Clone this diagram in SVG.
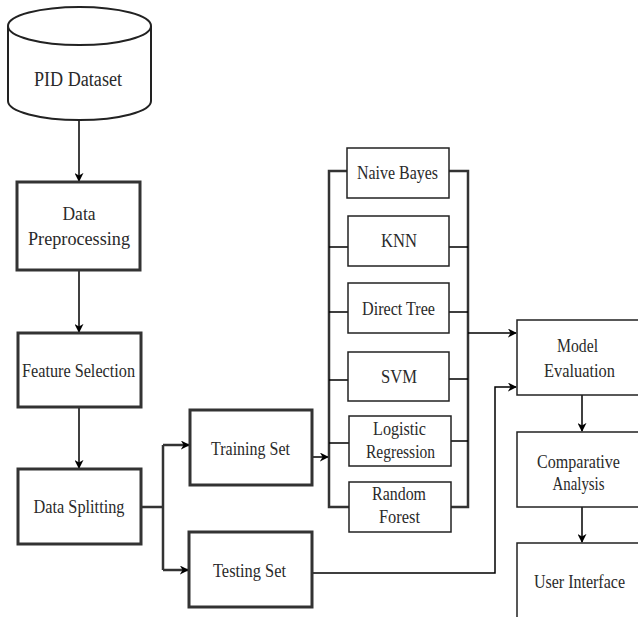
<svg xmlns="http://www.w3.org/2000/svg" width="638" height="617" viewBox="0 0 638 617" font-family="'Liberation Serif', 'Times New Roman', serif">
<defs>
<marker id="ah" viewBox="0 0 10 10" refX="9" refY="5" markerWidth="9" markerHeight="9" markerUnits="userSpaceOnUse" orient="auto">
<path d="M0,0 L10,5 L0,10 L3,5 z" fill="#000"/>
</marker>
<style>
.thick{fill:#fff;stroke:#333;stroke-width:3}
.thin{fill:#fff;stroke:#222;stroke-width:1.5}
.cyl{fill:#fff;stroke:#222;stroke-width:2}
.t{font-family:'Liberation Serif','Times New Roman',serif;font-size:19px;fill:#2a2a2a;text-anchor:middle}
.s{font-size:18px}
.c{fill:none;stroke:#000;stroke-width:1.5}
.a{marker-end:url(#ah)}
.bus{fill:none;stroke:#333;stroke-width:2.5}
</style>
</defs>
<rect width="638" height="617" fill="#fff"/>
<g id="connectors">
<path class="c a" d="M79,120 V181"/>
<path class="c a" d="M79,270 V332"/>
<path class="c a" d="M79,407 V468"/>
<path class="bus" d="M141,507 H163 M163,445 V570"/>
<path class="bus a" d="M163,445 H189"/>
<path class="bus a" d="M163,570 H188"/>
<path class="c a" d="M312,457 H328"/>
<path class="bus" d="M347,171 H329 V507 H349"/>
<path class="bus" d="M449,171 H468 V507 H451"/>
<path class="c" d="M329,247 H348 M329,312 H348 M329,380 H348 M329,443 H349 M449,247 H468 M449,312 H468 M449,379 H468 M451,441 H468"/>
<path class="c a" d="M468,333 H516"/>
<path class="c a" d="M312,573 H495 V387 H516"/>
<path class="c a" d="M582,395 V431"/>
<path class="c a" d="M582,507 V542"/>
</g>
<g id="pid-dataset">
<path class="cyl" d="M8,26 V101 A71.5,19 0 0 0 151,101 V26"/>
<ellipse class="cyl" cx="79.5" cy="26" rx="71.5" ry="19"/>
<text class="t" x="78" y="86" style="font-size:20px" textLength="88" lengthAdjust="spacingAndGlyphs">PID Dataset</text>
</g>
<g id="data-preprocessing">
<rect class="thick" x="17" y="182" width="123" height="88"/>
<text class="t" x="79" y="220" textLength="33" lengthAdjust="spacingAndGlyphs">Data</text>
<text class="t" x="79" y="245" textLength="102" lengthAdjust="spacingAndGlyphs">Preprocessing</text>
</g>
<g id="feature-selection">
<rect class="thick" x="18" y="333" width="123" height="74"/>
<text class="t" x="78.5" y="377" textLength="113" lengthAdjust="spacingAndGlyphs">Feature Selection</text>
</g>
<g id="data-splitting">
<rect class="thick" x="18" y="469" width="123" height="75"/>
<text class="t" x="79" y="513" textLength="91" lengthAdjust="spacingAndGlyphs">Data Splitting</text>
</g>
<g id="training-set">
<rect class="thick" x="190" y="410" width="122" height="75"/>
<text class="t" x="250.5" y="455" textLength="79" lengthAdjust="spacingAndGlyphs">Training Set</text>
</g>
<g id="testing-set">
<rect class="thick" x="189" y="532" width="123" height="75"/>
<text class="t" x="249.5" y="577" textLength="73" lengthAdjust="spacingAndGlyphs">Testing Set</text>
</g>
<g id="naive-bayes">
<rect class="thin" x="347" y="148" width="102" height="50"/>
<text class="t s" x="397.5" y="179" textLength="81" lengthAdjust="spacingAndGlyphs">Naive Bayes</text>
</g>
<g id="knn">
<rect class="thin" x="348" y="216" width="101" height="50"/>
<text class="t s" x="399" y="247" textLength="36" lengthAdjust="spacingAndGlyphs">KNN</text>
</g>
<g id="direct-tree">
<rect class="thin" x="348" y="283" width="101" height="50"/>
<text class="t s" x="398.5" y="315" textLength="73" lengthAdjust="spacingAndGlyphs">Direct Tree</text>
</g>
<g id="svm">
<rect class="thin" x="348" y="352" width="101" height="49"/>
<text class="t s" x="399" y="383" textLength="36" lengthAdjust="spacingAndGlyphs">SVM</text>
</g>
<g id="logistic-regression">
<rect class="thin" x="349" y="416" width="102" height="50"/>
<text class="t s" x="399.5" y="435" textLength="53" lengthAdjust="spacingAndGlyphs">Logistic</text>
<text class="t s" x="400.5" y="458" textLength="69" lengthAdjust="spacingAndGlyphs">Regression</text>
</g>
<g id="random-forest">
<rect class="thin" x="349" y="482" width="102" height="50"/>
<text class="t s" x="399" y="500" textLength="54" lengthAdjust="spacingAndGlyphs">Random</text>
<text class="t s" x="399.5" y="523" textLength="41" lengthAdjust="spacingAndGlyphs">Forest</text>
</g>
<g id="model-evaluation">
<rect class="thin" x="517" y="320" width="124" height="75"/>
<text class="t s" x="577.5" y="352" textLength="41" lengthAdjust="spacingAndGlyphs">Model</text>
<text class="t s" x="579.5" y="377" textLength="71" lengthAdjust="spacingAndGlyphs">Evaluation</text>
</g>
<g id="comparative-analysis">
<rect class="thin" x="517" y="432" width="124" height="75"/>
<text class="t s" x="578.5" y="468" textLength="83" lengthAdjust="spacingAndGlyphs">Comparative</text>
<text class="t s" x="578.5" y="490" textLength="52" lengthAdjust="spacingAndGlyphs">Analysis</text>
</g>
<g id="user-interface">
<rect class="thin" x="517" y="543" width="124" height="80"/>
<text class="t s" x="579.5" y="588" textLength="91" lengthAdjust="spacingAndGlyphs">User Interface</text>
</g>
</svg>
